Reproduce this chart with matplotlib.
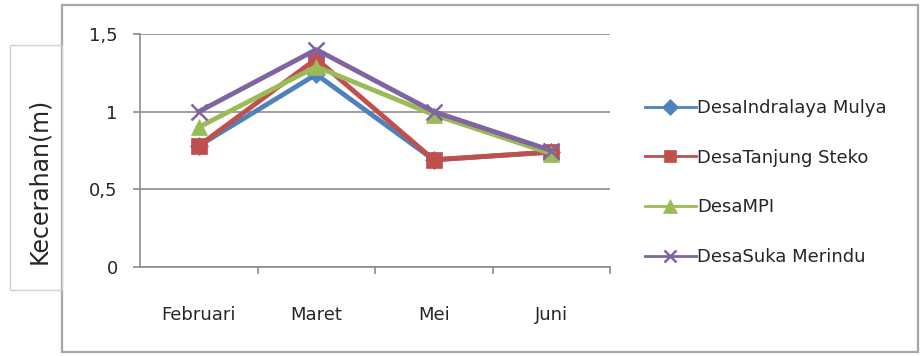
import matplotlib
matplotlib.use("Agg")
import matplotlib.pyplot as plt
from matplotlib.patches import Rectangle

plt.rcParams['font.family'] = ['DejaVu Sans']

bulan = ['Februari', 'Maret', 'Mei', 'Juni']
indralaya = [0.78, 1.24, 0.69, 0.74]
tanjung = [0.78, 1.34, 0.69, 0.74]
mpi = [0.90, 1.29, 0.98, 0.73]
suka = [1.00, 1.40, 1.00, 0.75]
nama = ['DesaIndralaya Mulya', 'DesaTanjung Steko', 'DesaMPI', 'DesaSuka Merindu']
yticks = [0, 0.5, 1, 1.5]
ylabels = ['0', '0,5', '1', '1,5']

W, H = 922, 356
fig = plt.figure(figsize=(W / 100, H / 100), dpi=100)

# outer chart frame and y-label box (pixel coords)
def px_rect(x0, y0, x1, y1, **kw):
    r = Rectangle((x0 / W, 1 - y1 / H), (x1 - x0) / W, (y1 - y0) / H,
                  transform=fig.transFigure, fill=False, **kw)
    fig.patches.append(r)

px_rect(62, 5, 918, 352, edgecolor='#a6a6a6', linewidth=1.6)
px_rect(10, 45, 62, 290, edgecolor='#d0d0d0', linewidth=1.0)
fig.text(39 / W, 1 - 181 / H, 'Kecerahan(m)', rotation=90, ha='center', va='center',
         fontsize=17, color='#262626')

ax = fig.add_axes([140 / W, 1 - 267 / H, 470 / W, 233 / H])
x = range(len(bulan))
styles = [
    (indralaya, '#4F81BD', 'D', 9),
    (tanjung, '#C0504D', 's', 11),
    (mpi, '#9BBB59', '^', 12),
    (suka, '#8064A2', 'x', 11),
]
for (vals, col, mk, ms), lab in zip(styles, nama):
    ax.plot(x, vals, color=col, marker=mk, markersize=ms, linewidth=3.5,
            markeredgewidth=1.8 if mk == 'x' else 0.5, markeredgecolor=col, label=lab)

ax.set_xlim(-0.5, 3.5)
ax.set_ylim(0, 1.5)
ax.set_yticks(yticks)
ax.set_yticklabels(ylabels)
ax.set_xticks(list(x))
ax.set_xticklabels(bulan)
ax.set_xticks([0.5, 1.5, 2.5, 3.5], minor=True)
ax.tick_params(axis='x', which='major', length=0, pad=28, labelsize=13, labelcolor='#262626')
ax.tick_params(axis='x', which='minor', length=5, width=1.2, color='#8c8c8c', direction='out')
ax.tick_params(axis='y', length=5, width=1.2, color='#8c8c8c', pad=11, labelsize=13,
               labelcolor='#262626')
ax.grid(axis='y', color='#8c8c8c', linewidth=1.2)
ax.set_axisbelow(True)
for s in ['top', 'right']:
    ax.spines[s].set_visible(False)
for s in ['left', 'bottom']:
    ax.spines[s].set_color('#8c8c8c')
    ax.spines[s].set_linewidth(1.2)

leg = fig.legend(loc='center left', bbox_to_anchor=(636 / W, 1 - 182.5 / H), frameon=False,
                 fontsize=13, handlelength=2.8, handletextpad=0.1, labelspacing=1.75,
                 borderpad=0, markerscale=0.85)
for line in leg.get_lines():
    line.set_linewidth(2)
for t in leg.get_texts():
    t.set_color('#262626')

fig.savefig('out.png', dpi=100)
